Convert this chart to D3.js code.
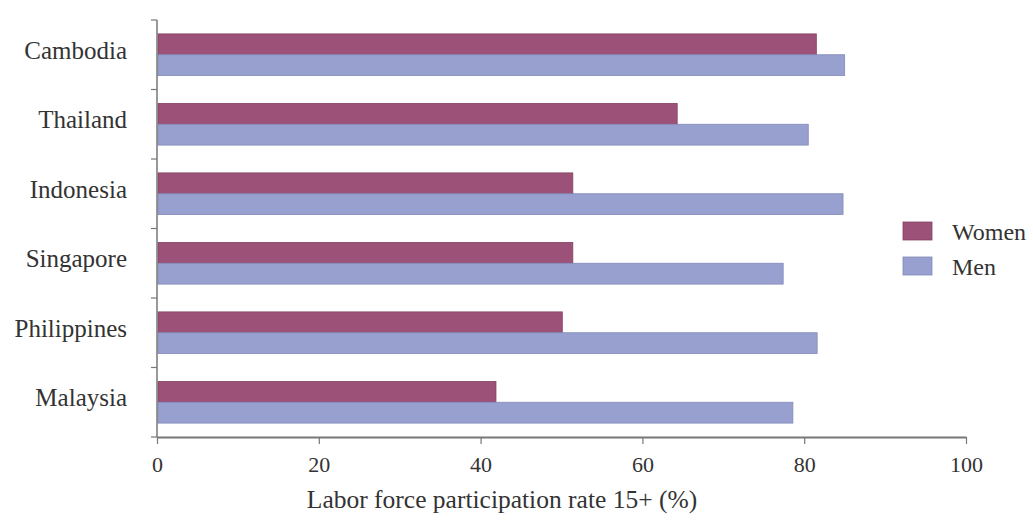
<!DOCTYPE html>
<html>
<head>
<meta charset="utf-8">
<script src="https://cdn.jsdelivr.net/npm/d3@7"></script>
<style>
	body { margin: 0; background: #fff; }
	text { font-family: "Liberation Serif", "Times New Roman", serif; fill: #333; }
</style>
</head>
<body>
<svg></svg>
<script>
const countries = ["Cambodia", "Thailand", "Indonesia", "Singapore", "Philippines", "Malaysia"];
const women = [81.5, 64.3, 51.4, 51.4, 50.1, 41.9];
const men = [85.0, 80.5, 84.8, 77.4, 81.6, 78.6];
const seriesNames = ["Women", "Men"];
const xTicks = [0, 20, 40, 60, 80, 100];

function drawChart() {
	const width = 1033;
	const height = 527;
	const left = 157, right = 966, top = 20, bottom = 437;

	const colors = ["#9c5278", "#98a0cf"];
	const strokes = ["#864263", "#8189b8"];

	let svg = d3.select("svg")
		.attr("width", width)
		.attr("height", height);

	let xScale = d3.scaleLinear()
		.domain([0, 100])
		.range([left, right]);

	let yScale = d3.scaleBand()
		.domain(countries)
		.range([top, bottom])
		.paddingInner(0.4)
		.paddingOuter(0.2);

	let subScale = d3.scaleBand()
		.domain(seriesNames)
		.range([0, yScale.bandwidth()]);

	let rows = countries.map((c, i) => ({ country: c, values: [women[i], men[i]] }));

	let groups = svg.selectAll(".row")
		.data(rows)
		.enter()
		.append("g")
			.classed("row", true)
			.attr("transform", (d) => `translate(0, ${yScale(d.country)})`);

	groups.selectAll("rect")
		.data((d) => d.values.map((v, j) => ({ name: seriesNames[j], value: v, j: j })))
		.enter()
		.append("rect")
			.attr("x", xScale(0) + 1)
			.attr("y", (d) => subScale(d.name))
			.attr("width", (d) => xScale(d.value) - xScale(0) - 1)
			.attr("height", subScale.bandwidth())
			.attr("fill", (d) => colors[d.j])
			.attr("stroke", (d) => strokes[d.j])
			.attr("stroke-width", 0.8);

	// y axis: line with ticks at band boundaries
	let boundaries = d3.range(countries.length + 1).map((i) => top + i * (bottom - top) / countries.length);

	svg.append("line")
		.attr("x1", left).attr("x2", left)
		.attr("y1", top).attr("y2", bottom)
		.attr("stroke", "#777")
		.attr("stroke-width", 1.5);

	svg.selectAll(".ytick")
		.data(boundaries)
		.enter()
		.append("line")
			.classed("ytick", true)
			.attr("x1", left - 6).attr("x2", left)
			.attr("y1", (d) => d).attr("y2", (d) => d)
			.attr("stroke", "#777")
			.attr("stroke-width", 1.2);

	svg.selectAll(".ylabel")
		.data(countries)
		.enter()
		.append("text")
			.classed("ylabel", true)
			.attr("x", 127)
			.attr("y", (d) => yScale(d) + yScale.bandwidth() / 2 + 4)
			.attr("text-anchor", "end")
			.style("font-size", "25px")
			.text((d) => d);

	// x axis
	let xAxis = d3.axisBottom(xScale)
		.tickValues(xTicks)
		.tickSize(7)
		.tickSizeOuter(0)
		.tickFormat(d3.format("d"));

	let gx = svg.append("g")
		.attr("transform", `translate(0, ${bottom})`)
		.call(xAxis);

	gx.select(".domain")
		.attr("stroke", "#777")
		.attr("stroke-width", 2);
	gx.selectAll(".tick line")
		.attr("stroke", "#777")
		.attr("stroke-width", 1.2);
	gx.selectAll(".tick text")
		.attr("y", 35)
		.attr("dy", null)
		.style("font-family", "'Liberation Serif', 'Times New Roman', serif")
		.style("font-size", "22px")
		.attr("fill", "#333");

	svg.append("text")
		.attr("x", 502)
		.attr("y", 508)
		.attr("text-anchor", "middle")
		.style("font-size", "25.5px")
		.text("Labor force participation rate 15+ (%)");

	// legend
	let legend = svg.selectAll(".legend")
		.data(seriesNames)
		.enter()
		.append("g")
			.classed("legend", true)
			.attr("transform", (d, i) => `translate(903, ${222 + 35 * i})`);

	legend.append("rect")
		.attr("width", 29)
		.attr("height", 18)
		.attr("fill", (d, i) => colors[i])
		.attr("stroke", (d, i) => strokes[i])
		.attr("stroke-width", 0.8);

	legend.append("text")
		.attr("x", 49)
		.attr("y", 18)
		.style("font-size", "24px")
		.text((d) => d);
}

document.addEventListener("DOMContentLoaded", drawChart);
</script>
</body>
</html>
